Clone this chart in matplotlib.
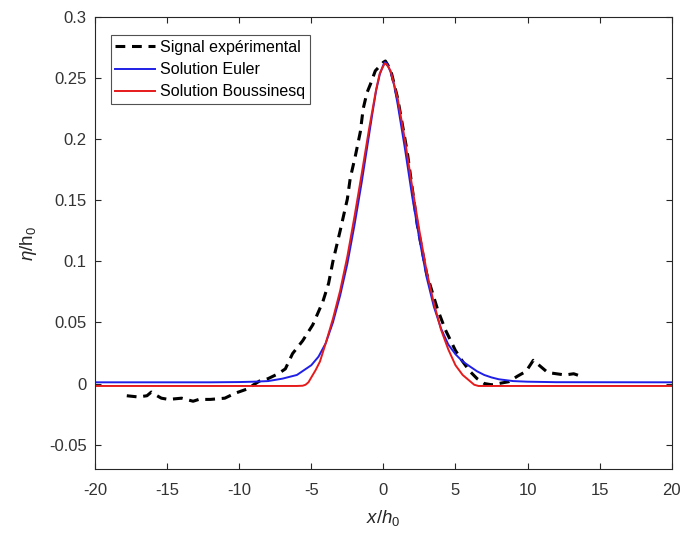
import matplotlib
matplotlib.use("Agg")
import matplotlib.pyplot as plt
import numpy as np

plt.rcParams['font.family'] = ['Liberation Sans', 'DejaVu Sans']
plt.rcParams['mathtext.fontset'] = 'custom'
plt.rcParams['mathtext.rm'] = 'Liberation Sans'
plt.rcParams['mathtext.it'] = 'Liberation Sans:italic'
plt.rcParams['mathtext.bf'] = 'Liberation Sans:bold'
plt.rcParams['axes.unicode_minus'] = False

# Experimental signal
exp_x = [-17.8, -17.0, -16.4, -16.1, -15.7, -15.4, -14.9, -14.0, -13.2, -12.8, -12.0, -11.0,
         -10.3, -9.5, -9.0, -8.6, -8.0, -7.3, -6.8, -6.3, -5.6, -4.9, -4.2, -3.8, -3.5,
         -3.0, -2.5, -2.3, -1.95, -1.6, -1.4, -1.14, -0.9, -0.56, 0.0, 0.14, 0.5, 1.0,
         1.65, 2.35, 3.0, 3.75, 4.3, 5.0, 5.5, 6.0, 6.5, 7.0, 7.5, 8.0, 8.7, 9.3, 9.9,
         10.4, 10.7, 11.4, 12.0, 12.6, 13.2, 13.7]
exp_y = [-0.010, -0.011, -0.010, -0.007, -0.010, -0.012, -0.013, -0.012, -0.0145, -0.013, -0.013, -0.012,
         -0.008, -0.0047, -0.001, 0.002, 0.004, 0.008, 0.012, 0.0245, 0.035, 0.048, 0.067, 0.082, 0.100,
         0.125, 0.151, 0.168, 0.186, 0.206, 0.225, 0.238, 0.245, 0.256, 0.263, 0.264, 0.257, 0.233,
         0.190, 0.130, 0.090, 0.061, 0.044, 0.027, 0.018, 0.010, 0.004, 0.000, -0.001, 0.000, 0.0015, 0.006, 0.010,
         0.019, 0.016, 0.009, 0.008, 0.007, 0.008, 0.006]

# Euler solution
euler_x = [-20, -12, -10, -9, -8, -7, -6, -5.5, -5, -4.5, -4, -3.5, -3, -2.5, -2, -1.5, -1,
           -0.75, -0.5, -0.25, 0, 0.1, 0.25, 0.5, 0.75, 1, 1.5, 2, 2.5, 3, 3.5, 4, 4.5,
           5, 5.5, 6, 6.5, 7, 7.5, 8, 9, 10, 12, 20]
euler_y = [0.001, 0.001, 0.0012, 0.0015, 0.002, 0.004, 0.007, 0.011, 0.015, 0.022, 0.033, 0.050,
           0.072, 0.098, 0.130, 0.165, 0.203, 0.222, 0.240, 0.253, 0.261, 0.263, 0.262, 0.255,
           0.244, 0.228, 0.192, 0.153, 0.118, 0.087, 0.063, 0.045, 0.032, 0.024, 0.018, 0.014,
           0.010, 0.007, 0.005, 0.0035, 0.002, 0.0015, 0.0011, 0.001]

# Boussinesq solution
bouss_x = [-20, -10, -6, -5.6, -5.4, -5.2, -5.0, -4.7, -4.4, -4, -3.5, -3, -2.5, -2, -1.5, -1,
           -0.5, -0.25, 0, 0.1, 0.25, 0.5, 1, 1.5, 2, 2.5, 3, 3.5, 4, 4.5, 5, 5.5, 6, 6.3,
           6.6, 10, 20]
bouss_y = [-0.002, -0.002, -0.002, -0.0018, -0.001, 0.001, 0.005, 0.011, 0.018, 0.033, 0.053,
           0.076, 0.104, 0.137, 0.172, 0.208, 0.241, 0.254, 0.260, 0.262, 0.261, 0.256, 0.233,
           0.199, 0.161, 0.125, 0.092, 0.066, 0.044, 0.028, 0.015, 0.007, 0.002, -0.001,
           -0.002, -0.002, -0.002]

fig = plt.figure(figsize=(6.84, 5.33), dpi=100)
ax = fig.add_axes([0.139, 0.12, 0.843, 0.848])

ax.plot(exp_x, exp_y, color='black', lw=2.2, linestyle=(0, (3.2, 2.2)), label='Signal expérimental')
ax.plot(euler_x, euler_y, color='#1f1fe6', lw=1.4, label='Solution Euler')
ax.plot(bouss_x, bouss_y, color='#e61a1a', lw=1.4, label='Solution Boussinesq')

ax.set_xlim(-20, 20)
ax.set_ylim(-0.07, 0.3)
ax.set_xticks(np.arange(-20, 21, 5))
ax.set_yticks([-0.05, 0, 0.05, 0.1, 0.15, 0.2, 0.25, 0.3])
ax.set_yticklabels(['-0.05', '0', '0.05', '0.1', '0.15', '0.2', '0.25', '0.3'])

axc = '#262626'
for s in ax.spines.values():
    s.set_color(axc)
    s.set_linewidth(0.8)
ax.tick_params(direction='in', top=True, right=True, length=4, width=0.8,
               colors=axc, labelsize=12, labelcolor='#333333')
ax.tick_params(axis='x', pad=10)
ax.tick_params(axis='y', pad=6)

ax.set_xlabel(r'$x/h_0$', fontsize=13.5, color='#262626', labelpad=7)
ax.set_ylabel(r'$\eta/\mathrm{h}_0$', fontsize=13.5, color='#262626', labelpad=7)

leg = ax.legend(loc='upper left', bbox_to_anchor=(0.027, 0.96), fontsize=11.5,
                frameon=True, fancybox=False, edgecolor='#262626', handlelength=2.5,
                borderpad=0.3, labelspacing=0.45, handletextpad=0.3, borderaxespad=0)
leg.get_frame().set_linewidth(0.8)

fig.savefig('out.png', dpi=100)
